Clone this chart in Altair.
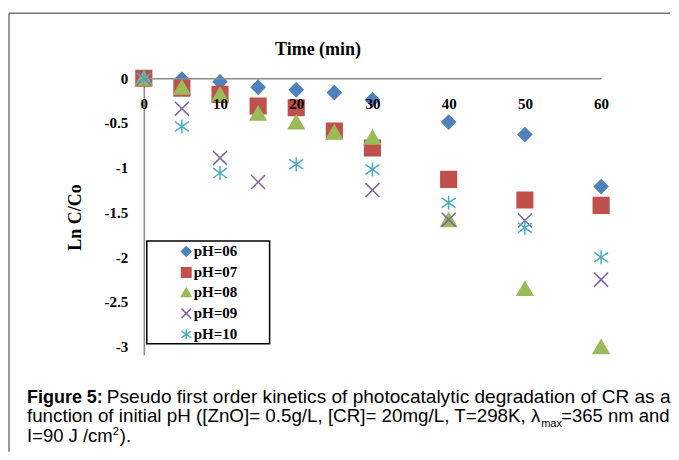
import altair as alt
import pandas as pd

# ---- data ----
series = ["pH=06", "pH=07", "pH=08", "pH=09", "pH=10"]

t_06 = [0, 5, 10, 15, 20, 25, 30, 40, 50, 60]
ph06 = [0, -0.01, -0.04, -0.10, -0.13, -0.16, -0.24, -0.49, -0.63, -1.21]

t_07 = [0, 5, 10, 15, 20, 25, 30, 40, 50, 60]
ph07 = [0, -0.11, -0.18, -0.31, -0.33, -0.59, -0.78, -1.13, -1.36, -1.42]

t_08 = [0, 5, 10, 15, 20, 25, 30, 40, 50, 60]
ph08 = [0, -0.10, -0.18, -0.39, -0.49, -0.60, -0.66, -1.58, -2.35, -3.00]

t_09 = [0, 5, 10, 15, 30, 40, 50, 60]
ph09 = [0, -0.34, -0.89, -1.16, -1.25, -1.58, -1.59, -2.25]

t_10 = [0, 5, 10, 20, 30, 40, 50, 60]
ph10 = [0, -0.54, -1.06, -0.96, -1.02, -1.39, -1.67, -2.00]

x_ticks = [0, 10, 20, 30, 40, 50, 60]
y_ticks = [0, -0.5, -1, -1.5, -2, -2.5, -3]

rows = []
for name, ts, vs in zip(series, [t_06, t_07, t_08, t_09, t_10], [ph06, ph07, ph08, ph09, ph10]):
    for t, v in zip(ts, vs):
        rows.append({"series": name, "time": t, "lnc": v})
df = pd.DataFrame(rows)
one = pd.DataFrame({"k": [0]})

# ---- styles ----
X_PATH = "M-1,-1L1,1M-1,1L1,-1"
AST_PATH = "M-1,-0.7L1,0.7M-1,0.7L1,-0.7M0,-1L0,1"
shapes = ["diamond", "square", "triangle-up", X_PATH, AST_PATH]
strokes = ["#4F81BD", "#C0504D", "#9BBB59", "#8064A2", "#4BACC6"]
fills = ["#4F81BD", "#C0504D", "#9BBB59", "transparent", "transparent"]

SERIF = "Liberation Serif"
SANS = "Liberation Sans"

leg = dict(
    orient="none", legendX=35, legendY=166, padding=0,
    labelFont=SERIF, labelFontWeight="bold", labelFontSize=15, labelColor="black",
    symbolSize=90, symbolStrokeWidth=1.5, rowPadding=4, labelOffset=0,
)

enc = dict(
    x=alt.X(
        "time:Q",
        scale=alt.Scale(domain=[0, 60], nice=False),
        axis=alt.Axis(
            orient="top", values=x_ticks, ticks=False, grid=False, zindex=1,
            labelPadding=-33, labelFont=SERIF, labelFontWeight="bold", labelFontSize=15,
            labelColor="black", labelOverlap=False, labelFlush=False,
            domainColor="#8a8a8a", domainWidth=1.5,
            title="Time (min)", titleFont=SERIF, titleFontWeight="bold", titleFontSize=18,
            titleColor="black", titleX=174, titleY=-29, titleAlign="center", titleBaseline="middle",
        ),
    ),
    y=alt.Y(
        "lnc:Q",
        scale=alt.Scale(domain=[-3.09, 0], nice=False, zero=False),
        axis=alt.Axis(
            values=y_ticks, ticks=False, grid=False, labelExpr="toString(datum.value)",
            labelPadding=16, labelFont=SERIF, labelFontWeight="bold", labelFontSize=15,
            labelColor="black", labelOverlap=False, labelFlush=False,
            domainColor="#8a8a8a", domainWidth=1.5,
            title="Ln C/Co", titleFont=SERIF, titleFontWeight="bold", titleFontSize=18,
            titleColor="black", titleX=-68, titleY=139, titleAlign="center", titleBaseline="middle",
        ),
    ),
    shape=alt.Shape("series:N", scale=alt.Scale(domain=series, range=shapes), title=None,
                    legend=alt.Legend(**leg)),
    stroke=alt.Stroke("series:N", scale=alt.Scale(domain=series, range=strokes), title=None,
                      legend=alt.Legend(**leg)),
    fill=alt.Fill("series:N", scale=alt.Scale(domain=series, range=fills), title=None,
                  legend=alt.Legend(**leg)),
)

def point_layer(members, size):
    return alt.Chart(df).transform_filter(
        alt.FieldOneOfPredicate(field="series", oneOf=members)
    ).mark_point(filled=False, opacity=1, strokeWidth=1.5, size=size).encode(**enc)

points = [
    point_layer(["pH=06"], 185),
    point_layer(["pH=07", "pH=08"], 245),
    point_layer(["pH=09", "pH=10"], 195),
]

legend_box = alt.Chart(one).mark_rect(fill="transparent", stroke="black", strokeWidth=1.5).encode(
    x=alt.value(3), x2=alt.value(126), y=alt.value(163), y2=alt.value(266)
)

frame_top = alt.Chart(one).mark_rule(color="#777777", strokeWidth=1.5).encode(
    x=alt.value(-135), x2=alt.value(527), y=alt.value(-65)
)
frame_left = alt.Chart(one).mark_rule(color="#777777", strokeWidth=1.5).encode(
    x=alt.value(-135), y=alt.value(-65), y2=alt.value(374)
)

def txt(text, x, y, size=18.8, weight="normal"):
    return alt.Chart(one).mark_text(
        text=text, align="left", baseline="alphabetic", font=SANS, fontSize=size,
        fontWeight=weight, color="black",
    ).encode(x=alt.value(x), y=alt.value(y))

caption = [
    txt("Figure 5:", -117, 325, size=18, weight="bold"),
    txt("Pseudo first order kinetics of photocatalytic degradation of CR as a", -37, 325, size=19.1),
    txt("function of initial pH ([ZnO]= 0.5g/L, [CR]= 20mg/L, T=298K, \u03bb", -117, 344),
    txt("max", 398, 349, size=11),
    txt("=365 nm and", 418, 344, size=18.5),
    txt("I=90 J /cm", -117, 364, size=18.5),
    txt("2", -31, 357, size=11),
    txt(").", -24, 364, size=18.5),
]

chart = alt.layer(frame_top, frame_left, legend_box, *points, *caption).properties(
    width=458, height=277,
    padding={"left": 0, "top": 4, "right": 0, "bottom": 0},
    background="white",
).configure_view(strokeWidth=0)

chart.save("out.html", embed_options={"renderer": "svg", "actions": False})
